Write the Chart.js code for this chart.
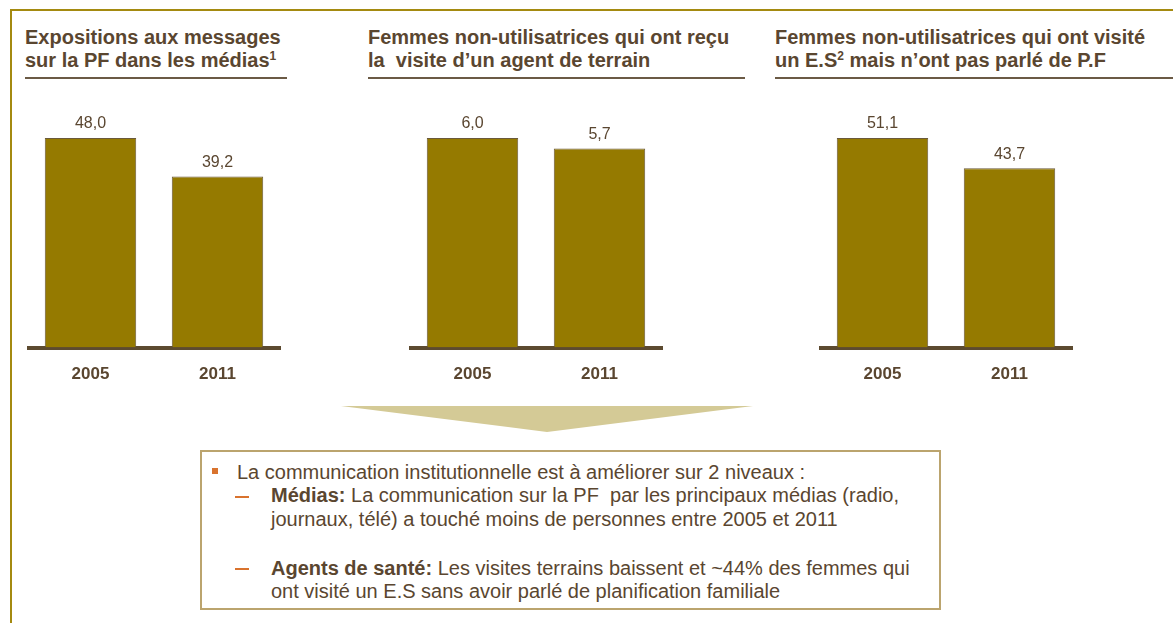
<!DOCTYPE html>
<html lang="fr">
<head>
<meta charset="utf-8">
<title>Communication PF</title>
<script src="https://cdn.jsdelivr.net/npm/chart.js@4.4.0/dist/chart.umd.min.js"></script>
<style>
    body { margin: 0; background: #fff; font-family: "Liberation Sans", Arial, sans-serif; color: #5a4630; }
    #page { position: relative; width: 1173px; height: 623px; overflow: hidden; }
    .frame { position: absolute; left: 10px; top: 9px; width: 1300px; height: 800px; border: 2px solid #a48a10; }
    .title { position: absolute; top: 26px; font-weight: bold; font-size: 20px; line-height: 23px; color: #5a4630;
             border-bottom: 2px solid #6b5a45; padding-bottom: 5px; white-space: nowrap; }
    .title sup { font-size: 12px; line-height: 0; vertical-align: 7px; }
    canvas { position: absolute; }
    .arrow { position: absolute; left: 341px; top: 406px; width: 412px; height: 26px; background: #d4ca96;
             clip-path: polygon(0 0, 100% 0, 50% 100%); }
    .box { position: absolute; left: 200px; top: 450px; width: 737px; height: 156px; border: 2px solid #bba46e; }
    .box .line { position: absolute; font-size: 20px; line-height: 23px; white-space: nowrap; color: #5a4630; }
    .bullet { position: absolute; width: 6px; height: 6px; background: #d9732e; }
    .dash { position: absolute; width: 14px; height: 2px; background: #d9732e; }
</style>
</head>
<body>
<div id="page">
    <div class="frame"></div>

    <div class="title" style="left:25px; width:262px;">Expositions aux messages<br>sur la PF dans les médias<sup>1</sup></div>
    <div class="title" style="left:368px; width:377px;">Femmes non-utilisatrices qui ont reçu<br>la&nbsp; visite d’un agent de terrain</div>
    <div class="title" style="left:775px; width:420px;">Femmes non-utilisatrices qui ont visité<br>un E.S<sup>2</sup> mais n’ont pas parlé de P.F</div>

    <canvas id="chartMedia" width="254" height="302" style="left:27px; top:100px;"></canvas>
    <canvas id="chartAgent" width="254" height="302" style="left:409px; top:100px;"></canvas>
    <canvas id="chartES" width="254" height="302" style="left:819px; top:100px;"></canvas>

    <div class="arrow"></div>

    <div class="box">
        <div class="bullet" style="left:10px; top:16px;"></div>
        <div class="line" style="left:35px; top:9px;">La communication institutionnelle est à améliorer sur 2 niveaux :</div>
        <div class="dash" style="left:33px; top:44px;"></div>
        <div class="line" style="left:69px; top:32px;"><b>Médias:</b> La communication sur la PF&nbsp; par les principaux médias (radio,</div>
        <div class="line" style="left:69px; top:56px;">journaux, télé) a touché moins de personnes entre 2005 et 2011</div>
        <div class="dash" style="left:33px; top:116px;"></div>
        <div class="line" style="left:69px; top:105px;"><b>Agents de santé:</b> Les visites terrains baissent et ~44% des femmes qui</div>
        <div class="line" style="left:69px; top:128px;">ont visité un E.S sans avoir parlé de planification familiale</div>
    </div>
</div>

<script>
const years = ['2005', '2011'];
const mediaValues = [48.0, 39.2];
const agentValues = [6.0, 5.7];
const esValues = [51.1, 43.7];

const barColor = '#957a00';
const barEdge = '#6b5a3a';
const axisColor = '#5c4a30';
const textColor = '#5a4630';

// draws the value on top of each bar, french decimal comma
const valueLabels = {
    id: 'valueLabels',
    afterDatasetsDraw(chart) {
        const ctx = chart.ctx;
        ctx.save();
        ctx.font = '16px "Liberation Sans", Arial, sans-serif';
        ctx.fillStyle = textColor;
        ctx.textAlign = 'center';
        ctx.textBaseline = 'bottom';
        chart.getDatasetMeta(0).data.forEach((bar, i) => {
            const v = chart.data.datasets[0].data[i];
            ctx.fillText(v.toFixed(1).replace('.', ','), bar.x, bar.y - 6);
        });
        ctx.restore();
    }
};

function makeChart(id, values) {
    const ctx = document.getElementById(id).getContext('2d');
    return new Chart(ctx, {
        type: 'bar',
        data: {
            labels: years,
            datasets: [{
                data: values,
                backgroundColor: barColor,
                borderColor: barEdge,
                borderWidth: 1,
                categoryPercentage: 1,
                barPercentage: 0.72
            }]
        },
        options: {
            responsive: false,
            animation: false,
            layout: { padding: { top: 38, bottom: 0, left: 0, right: 0 } },
            plugins: {
                legend: { display: false },
                tooltip: { enabled: false }
            },
            scales: {
                y: {
                    display: false,
                    min: 0,
                    max: Math.max(...values)
                },
                x: {
                    grid: { display: false, drawTicks: false },
                    border: { display: true, color: axisColor, width: 4 },
                    ticks: {
                        padding: 17,
                        color: textColor,
                        font: { family: '"Liberation Sans", Arial, sans-serif', size: 17, weight: 'bold' }
                    }
                }
            }
        },
        plugins: [valueLabels]
    });
}

makeChart('chartMedia', mediaValues);
makeChart('chartAgent', agentValues);
makeChart('chartES', esValues);
</script>
</body>
</html>
